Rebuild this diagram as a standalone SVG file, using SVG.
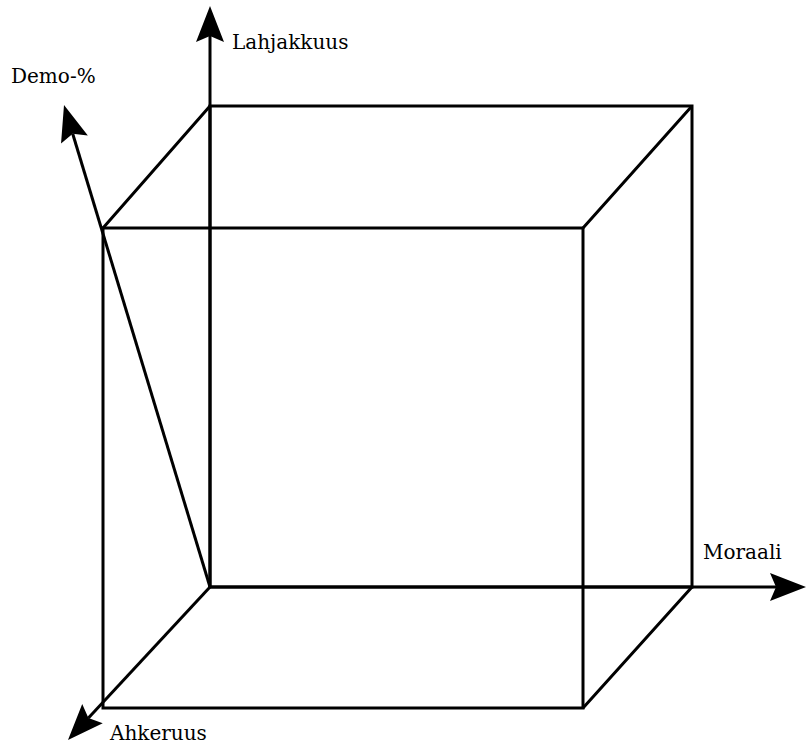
<svg xmlns="http://www.w3.org/2000/svg" width="808" height="746" viewBox="0 0 808 746">
<style>
.edge{fill:none;stroke:#000;stroke-width:3;stroke-linejoin:miter}
.axis{fill:none;stroke:#000;stroke-width:3;marker-end:url(#head)}
.lbl{font-family:"DejaVu Serif","Liberation Serif",serif;font-size:20px;fill:#000}
</style>
<defs>
<marker id="head" markerUnits="userSpaceOnUse" viewBox="0 -16 38 32" refX="6" refY="0" markerWidth="38" markerHeight="32" orient="auto" overflow="visible">
<path d="M36,0 L0,-14 L6,0 L0,14 Z" fill="#000"/>
</marker>
</defs>
<rect width="808" height="746" fill="#fff"/>
<g id="cube">
<rect class="edge" x="210" y="106" width="482" height="481"/>
<rect class="edge" x="103" y="228" width="480" height="480"/>
<path class="edge" d="M210,106 L103,228 M692,106 L583,228 M692,587 L583,708"/>
</g>
<g id="connectors">
<path class="axis" d="M210,587 L210,36"/>
<path class="axis" d="M210,587 L72.7,133.7"/>
<path class="axis" d="M210,587 L776,587"/>
<path class="axis" d="M210,587 L88.4,718"/>
</g>
<g id="lahjakkuus"><text class="lbl" x="232" y="49">Lahjakkuus</text></g>
<g id="demo"><text class="lbl" x="11" y="83">Demo-%</text></g>
<g id="moraali"><text class="lbl" x="703" y="559">Moraali</text></g>
<g id="ahkeruus"><text class="lbl" x="110" y="740">Ahkeruus</text></g>
</svg>
